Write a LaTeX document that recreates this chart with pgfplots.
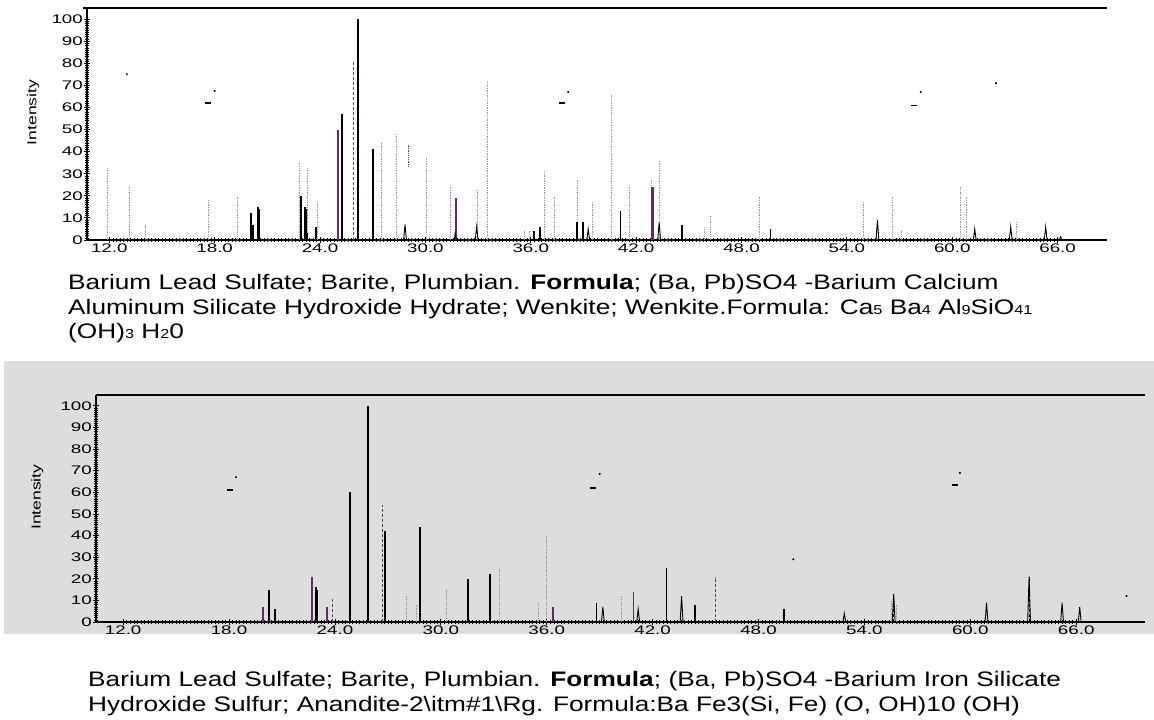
\documentclass[border=0pt]{standalone}
\usepackage{pgfplots}
\pgfplotsset{compat=1.18}
\usepackage{fontspec}
\setmainfont{Liberation Sans}
\newfontfamily\tickfont[FakeStretch=1.5]{Liberation Sans}
\newfontfamily\labfont[FakeStretch=1.35]{Liberation Sans}
\newfontfamily\capfont[FakeStretch=1.25]{Liberation Sans}
\definecolor{panelgray}{RGB}{221,221,221}
\definecolor{peakpurple}{RGB}{95,45,100}
\definecolor{dotgray}{RGB}{150,150,150}
\definecolor{dashdark}{RGB}{80,80,60}
\newcommand\sub[1]{{\fontsize{13}{13}\selectfont #1}}
\newcommand\capsize{\capfont\fontsize{21}{24}\selectfont}

\pgfplotsset{xrd/.style={
  scale only axis, clip=false,
  axis x line*=bottom, axis y line*=left,
  axis line style={-, line width=1.1pt, black},
  ymin=0, ymax=105,
  ytick={0,10,...,100}, minor y tick num=9,
  xtick={12,18,...,66},
  xticklabels={12.0,18.0,24.0,30.0,36.0,42.0,48.0,54.0,60.0,66.0},
  minor x tick num=29,
  tick align=center, major tick length=6pt, minor tick length=3.5pt,
  major tick style={black, line width=0.8pt}, minor tick style={black, line width=0.5pt},
  /pgf/number format/assume math mode=true,
  yticklabel style={font=\tickfont\fontsize{12.5}{12.5}\selectfont, inner sep=1pt},
  xticklabel style={font=\tickfont\fontsize{12.5}{12.5}\selectfont, inner sep=1pt},
  ylabel={Intensity},
  ylabel style={font=\labfont\fontsize{13}{13}\selectfont, anchor=center},
}}

\begin{document}
\begin{tikzpicture}[x=1pt,y=1pt]
\path[use as bounding box] (0,0) rectangle (1154,720);
\fill[white] (0,0) rectangle (1154,720);
\fill[panelgray] (4,86) rectangle (1154,359);

% ---------------- top panel ----------------
\begin{axis}[xrd, at={(87pt,480pt)}, anchor=south west,
  width=1020pt, height=232pt, xmin=10.73, xmax=68.81,
  ylabel style={at={(axis description cs:-0.053,0.55)}}]
% faint dotted reference lines
\addplot[ycomb, dotgray, densely dotted, line width=0.7pt] coordinates {
 (11.88,33) (13.13,24) (14.04,7) (17.63,18) (19.28,20) (22.85,35) (23.3,33)
 (23.85,17) (27.5,44) (28.36,48) (30.07,37) (31.4,24) (32.95,23) (33.5,72)
 (35.63,4) (35.92,4) (36.8,31) (37.33,20) (38.64,27) (39.5,17) (40.6,66)
 (41.61,24) (42.85,27) (43.31,36) (45.9,6) (46.2,11) (49.0,20) (54.92,17)
 (56.57,20) (57.1,4) (60.47,24) (60.81,20) (63.65,8)};
\addplot[dashdark, densely dotted, line width=1.2pt] coordinates {(29.03,33) (29.03,43)};
\addplot[ycomb, dashdark, densely dashed, line width=1.2pt] coordinates {(25.9,81)};
% solid peaks
\addplot[ycomb, black, line width=1.8pt] coordinates {
 (20.06,12) (20.17,7) (20.45,15) (20.52,14) (22.9,20) (23.13,15) (23.2,14)
 (23.26,3) (23.76,6) (25.25,57) (26.15,100) (27.03,41) (36.18,4) (36.52,6)
 (38.64,8) (38.99,8) (41.11,13) (44.59,7) (49.65,5)};
\addplot[ycomb, peakpurple, line width=1.8pt] coordinates {
 (25.04,50) (31.74,19) (42.88,24) (42.97,24)};
% triangular profiles
\addplot[black, line width=0.9pt, unbounded coords=jump] coordinates {
 (28.76,0) (28.84,7) (28.92,0) (nan,nan)
 (31.64,0) (31.7,3) (31.76,0) (nan,nan)
 (32.84,0) (32.92,6) (33.0,0) (nan,nan)
 (39.19,0) (39.27,5) (39.35,0) (nan,nan)
 (43.23,0) (43.31,8) (43.39,0) (nan,nan)
 (55.66,0) (55.74,9) (55.82,0) (nan,nan)
 (61.2,0) (61.28,5) (61.36,0) (nan,nan)
 (63.25,0) (63.33,6) (63.41,0) (nan,nan)
 (65.24,0) (65.32,6) (65.4,0) (nan,nan)
 (66.09,0) (66.17,1.5) (66.25,0)};
% scan specks
\addplot[only marks, black, mark=-, mark size=3pt, line width=1.3pt] coordinates {(17.63,62) (37.8,62) (57.8,61)};
\addplot[only marks, black, mark=*, mark size=0.8pt] coordinates {(18.0,67.5) (13.0,75) (38.13,67) (58.2,67) (62.5,71)};
\draw[line width=1.3pt] (rel axis cs:-0.004,1) -- (rel axis cs:1,1);
\end{axis}

% ---------------- bottom panel ----------------
\begin{axis}[xrd, at={(96pt,98pt)}, anchor=south west,
  width=1049pt, height=227pt, xmin=10.46, xmax=69.9,
  ylabel style={at={(axis description cs:-0.056,0.55)}}]
\addplot[ycomb, dotgray, densely dotted, line width=0.7pt] coordinates {
 (28.02,12) (28.6,8) (30.33,15) (33.31,25) (35.52,9) (36.0,40) (40.24,12)
 (55.5,10) (55.8,8)};
\addplot[ycomb, dashdark, densely dashed, line width=1.2pt] coordinates {
 (26.7,54) (45.57,21) (23.87,11)};
\addplot[ycomb, black, line width=1.8pt] coordinates {
 (20.24,15) (20.58,6) (22.92,16) (22.98,15) (24.85,60) (25.85,100)
 (26.83,42) (28.81,44) (31.52,20) (32.78,22) (38.82,9) (42.79,25)
 (44.39,8) (49.46,6)};
\addplot[ycomb, peakpurple, line width=1.8pt] coordinates {
 (19.93,7) (22.69,21) (23.55,7) (36.37,7) (40.92,14)};
\addplot[black, line width=0.9pt, unbounded coords=jump] coordinates {
 (39.1,0) (39.18,7) (39.26,0) (nan,nan)
 (41.1,0) (41.18,6) (41.26,0) (nan,nan)
 (43.56,0) (43.64,12) (43.72,0) (nan,nan)
 (52.78,0) (52.86,4) (52.94,0) (nan,nan)
 (55.58,0) (55.66,13) (55.74,0) (nan,nan)
 (60.84,0) (60.92,9) (61.0,0) (nan,nan)
 (63.25,0) (63.33,21) (63.41,0) (nan,nan)
 (65.12,0) (65.2,9) (65.28,0) (nan,nan)
 (66.12,0) (66.2,7) (66.28,0)};
\addplot[ycomb, black, densely dashed, line width=0.9pt] coordinates {(63.33,21) (55.66,13)};
\addplot[only marks, black, mark=-, mark size=3pt, line width=1.3pt] coordinates {(18.05,61) (38.63,62) (59.13,63.4)};
\addplot[only marks, black, mark=*, mark size=0.8pt] coordinates {(18.39,67) (39.0,68.5) (59.41,69) (68.85,12) (49.97,29)};
\draw[line width=1.3pt] (rel axis cs:0,1) -- (rel axis cs:1,1);
\end{axis}

% ---------------- captions ----------------
\begin{scope}[every node/.style={anchor=base west, inner sep=0pt}]
\node at (68,430) {\capsize Barium Lead Sulfate; Barite, Plumbian. \textbf{Formula}; (Ba, Pb)SO4 -Barium Calcium};
\node at (68,405) {\capsize Aluminum Silicate Hydroxide Hydrate; Wenkite; Wenkite.Formula: Ca\sub{5} Ba\sub{4} Al\sub{9}SiO\sub{41}};
\node at (68,381) {\capsize (OH)\sub{3} H\sub{2}0};
\node at (88,33) {\capsize Barium Lead Sulfate; Barite, Plumbian. \textbf{Formula}; (Ba, Pb)SO4 -Barium Iron Silicate};
\node at (88,8) {\capsize Hydroxide Sulfur; Anandite-2\textbackslash itm\#1\textbackslash Rg. Formula:Ba Fe3(Si, Fe) (O, OH)10 (OH)};
\end{scope}
\end{tikzpicture}
\end{document}
